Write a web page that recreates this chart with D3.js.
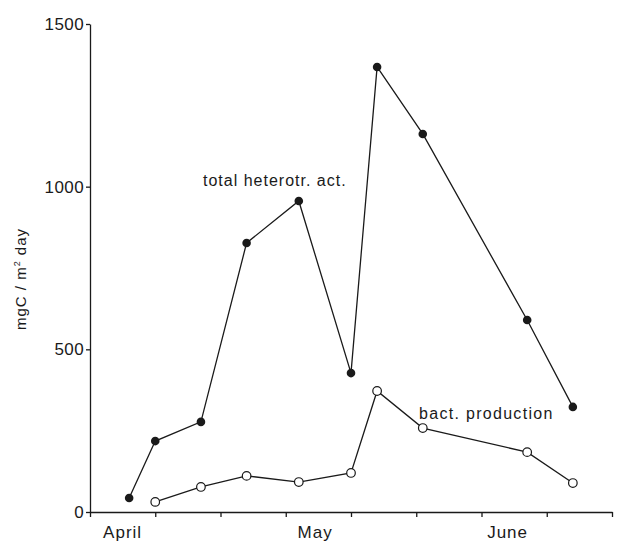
<!DOCTYPE html>
<html>
<head>
<meta charset="utf-8">
<script src="https://cdn.jsdelivr.net/npm/d3@7"></script>
<style>
  body { margin: 0; background: #fff; }
  svg { font-family: "Liberation Sans", Arial, sans-serif; }
</style>
</head>
<body>
<div class="chart"></div>
<script>
// sampling days, counted from 1 April
const days = [6, 10, 17, 24, 32, 40, 44, 51, 67, 74];
const totalAct = [43, 218, 277, 827, 956, 427, 1368, 1162, 590, 323];
const bactDays = [10, 17, 24, 32, 40, 44, 51, 67, 74];
const bactProd = [31, 77, 111, 92, 120, 372, 258, 184, 89];
const monthLabels = ["April", "May", "June"];
const monthDays = [5, 34.5, 64];
const yTicks = [0, 500, 1000, 1500];
const xTicks = [0, 10, 20, 30, 40, 50, 60, 70, 80];

const draw = () => {
    const width = 620, height = 541;
    const margin = { top: 24, right: 8, bottom: 29, left: 90 };

    const svg = d3.select(".chart")
        .append("svg")
        .attr("width", width)
        .attr("height", height);

    const x = d3.scaleLinear().domain([0, 80]).range([margin.left, 612]);
    const y = d3.scaleLinear().domain([0, 1500]).range([height - margin.bottom, margin.top]);

    const ink = "#1a1a1a";

    // axes
    const yAxis = svg.append("g")
        .attr("transform", "translate(" + margin.left + ",0)")
        .call(d3.axisLeft(y).tickValues(yTicks).tickFormat(d3.format("d"))
            .tickSize(4).tickSizeOuter(0).tickPadding(2));
    yAxis.selectAll("text")
        .style("font-size", "17px")
        .style("letter-spacing", "0.4px")
        .attr("fill", ink);

    svg.append("g")
        .attr("transform", "translate(0," + y(0) + ")")
        .call(d3.axisBottom(x).tickValues(xTicks).tickSize(5).tickSizeOuter(0).tickFormat(""));

    svg.selectAll(".domain, .tick line")
        .attr("stroke", ink)
        .attr("stroke-width", 1.3);

    // month labels
    svg.selectAll(".month")
        .data(monthLabels)
        .enter()
        .append("text")
        .attr("class", "month")
        .attr("x", (d, i) => x(monthDays[i]))
        .attr("y", 538)
        .attr("text-anchor", "middle")
        .style("font-size", "17px")
        .style("letter-spacing", "1px")
        .attr("fill", ink)
        .text(d => d);

    // y axis title
    const yt = svg.append("text")
        .attr("transform", "translate(26,279) rotate(-90)")
        .attr("text-anchor", "middle")
        .style("font-size", "15px")
        .style("letter-spacing", "1px")
        .attr("fill", ink);
    yt.append("tspan").text("mgC / m");
    yt.append("tspan").attr("dy", "-6").style("font-size", "9px").text("2");
    yt.append("tspan").attr("dy", "6").text(" day");

    const line = d3.line()
        .x(d => x(d[0]))
        .y(d => y(d[1]));

    const total = days.map((d, i) => [d, totalAct[i]]);
    const bact = bactDays.map((d, i) => [d, bactProd[i]]);

    svg.append("path")
        .datum(total)
        .attr("fill", "none")
        .attr("stroke", ink)
        .attr("stroke-width", 1.3)
        .attr("d", line);

    svg.append("path")
        .datum(bact)
        .attr("fill", "none")
        .attr("stroke", ink)
        .attr("stroke-width", 1.3)
        .attr("d", line);

    svg.selectAll(".dot")
        .data(total)
        .enter()
        .append("circle")
        .attr("class", "dot")
        .attr("cx", d => x(d[0]))
        .attr("cy", d => y(d[1]))
        .attr("r", 4.3)
        .attr("fill", ink);

    svg.selectAll(".odot")
        .data(bact)
        .enter()
        .append("circle")
        .attr("class", "odot")
        .attr("cx", d => x(d[0]))
        .attr("cy", d => y(d[1]))
        .attr("r", 4.3)
        .attr("fill", "#fff")
        .attr("stroke", ink)
        .attr("stroke-width", 1.2);

    // series labels
    svg.append("text")
        .attr("x", 203)
        .attr("y", 186)
        .style("font-size", "16px")
        .style("letter-spacing", "1px")
        .attr("fill", ink)
        .text("total heterotr. act.");

    svg.append("text")
        .attr("x", 419)
        .attr("y", 419)
        .style("font-size", "16px")
        .style("letter-spacing", "1.3px")
        .attr("fill", ink)
        .text("bact. production");
};

draw();
</script>
</body>
</html>
